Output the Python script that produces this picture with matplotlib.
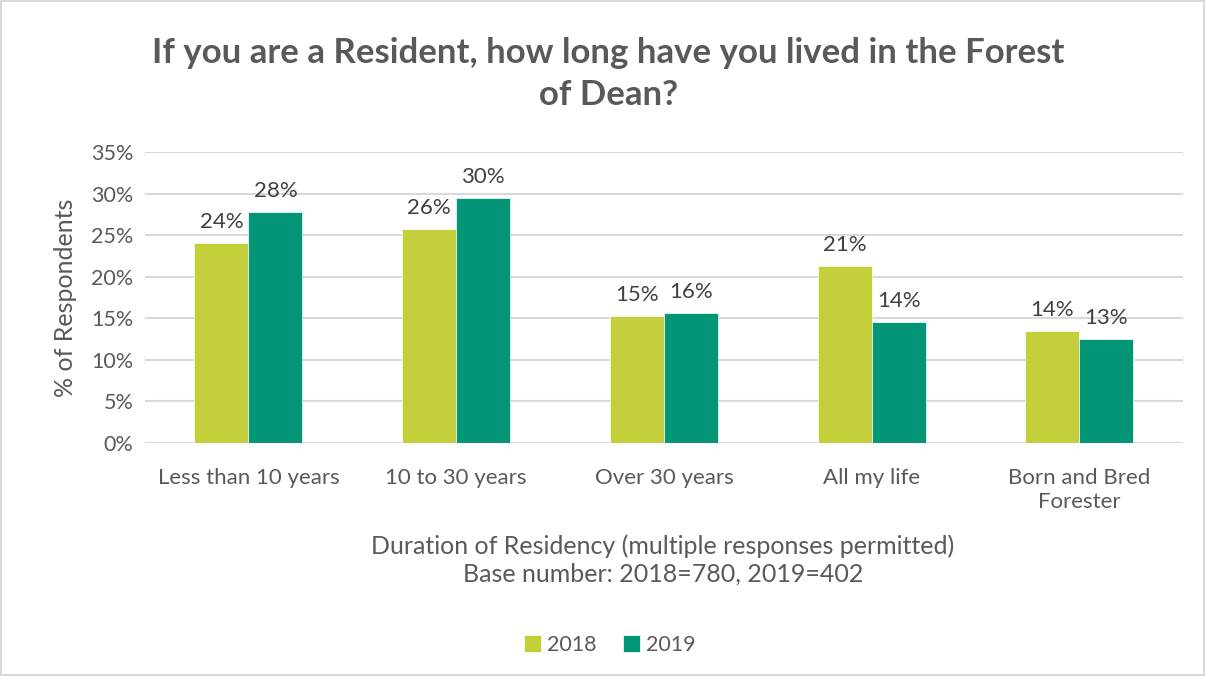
import matplotlib.pyplot as plt
import numpy as np

categories = ['Less than 10 years', '10 to 30 years', 'Over 30 years', 'All my life', 'Born and Bred\nForester']
vals_2018 = [24.1, 25.7, 15.3, 21.3, 13.5]
vals_2019 = [27.8, 29.5, 15.6, 14.5, 12.5]
labels_2018 = ['24%', '26%', '15%', '21%', '14%']
labels_2019 = ['28%', '30%', '16%', '14%', '13%']
yticks = [0, 5, 10, 15, 20, 25, 30, 35]

plt.rcParams['font.family'] = ['Lato', 'DejaVu Sans']
c2018 = '#C3CF3B'
c2019 = '#039676'
txt = '#595959'

fig = plt.figure(figsize=(12.05, 6.76), dpi=100)
fig.patch.set_edgecolor('#d9d9d9')
fig.patch.set_linewidth(1.5)
ax = fig.add_axes([0.120, 0.345, 0.862, 0.430])

x = np.arange(len(categories))
w = 0.26
b1 = ax.bar(x - w / 2, vals_2018, w, color=c2018, edgecolor='white', linewidth=0.5, label='2018', zorder=3)
b2 = ax.bar(x + w / 2, vals_2019, w, color=c2019, edgecolor='white', linewidth=0.5, label='2019', zorder=3)

for bars, labs in [(b1, labels_2018), (b2, labels_2019)]:
    for b, lab in zip(bars, labs):
        ax.annotate(lab, (b.get_x() + b.get_width() / 2, b.get_height()),
                    xytext=(0, 8), textcoords='offset points', ha='center', va='bottom',
                    fontsize=16, color='#404040')

ax.set_xlim(-0.5, len(categories) - 0.5)
ax.set_ylim(0, 35)
ax.set_yticks(yticks)
ax.set_yticklabels([f'{t}%' for t in yticks])
ax.set_xticks(x)
ax.set_xticklabels(categories, linespacing=1.25)
ax.tick_params(axis='both', length=0, labelsize=15.5, labelcolor=txt, pad=8)
ax.tick_params(axis='x', labelsize=16, pad=18)
ax.grid(axis='y', color='#d9d9d9', linewidth=1.5, zorder=0)
for s in ax.spines.values():
    s.set_visible(False)

ax.set_ylabel('% of Respondents', fontsize=18, color=txt, labelpad=10)
fig.text(0.55, 0.172, 'Duration of Residency (multiple responses permitted)\nBase number: 2018=780, 2019=402',
         ha='center', va='center', fontsize=18, color=txt, linespacing=1.22)
fig.text(0.505, 0.891, 'If you are a Resident, how long have you lived in the Forest\nof Dean?',
         ha='center', va='center', fontsize=25, fontweight='bold', color='#595959', linespacing=1.38)

fig.legend(loc='center', bbox_to_anchor=(0.506, 0.046), ncol=2, frameon=False, fontsize=15.5,
           labelcolor=txt, handlelength=0.8, handleheight=0.8, handletextpad=0.3, columnspacing=1.2)

fig.savefig('out.png', dpi=100)
